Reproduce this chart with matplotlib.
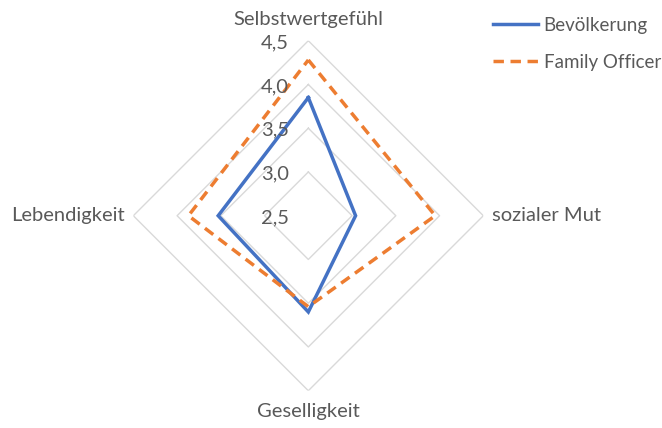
import numpy as np
import matplotlib.pyplot as plt

# ----------------------------
# Data
# ----------------------------
categories = ["Selbstwertgefühl", "sozialer Mut", "Geselligkeit", "Lebendigkeit"]
bevoelkerung = [3.85, 3.04, 3.60, 3.53]
family_officer = [4.28, 3.95, 3.54, 3.87]
ring_values = [3.0, 3.5, 4.0, 4.5]
tick_values = [2.5, 3.0, 3.5, 4.0, 4.5]
tick_labels = ["2,5", "3,0", "3,5", "4,0", "4,5"]

plt.rcParams["font.family"] = ["Lato", "DejaVu Sans"]
text_color = "#595959"
grid_color = "#d9d9d9"
fs = 14.5

fig = plt.figure(figsize=(6.62, 4.28), dpi=100)
ax = fig.add_axes([0.2014, 0.0871, 0.5287, 0.8178], projection="polar")
ax.set_theta_zero_location("N")
ax.set_theta_direction(-1)
ax.set_ylim(2.5, 4.5)
ax.grid(False)
ax.set_xticks([])
ax.set_yticks([])
ax.spines["polar"].set_visible(False)
ax.patch.set_alpha(0)

n = len(categories)
theta = np.arange(n) * 2 * np.pi / n
theta_closed = np.append(theta, theta[0])

# polygon grid rings
for rv in ring_values:
    ax.plot(theta_closed, [rv] * (n + 1), color=grid_color, lw=1.0, zorder=1)

# data series
ax.plot(theta_closed, bevoelkerung + bevoelkerung[:1], color="#4472C4",
        lw=2.5, zorder=3, solid_joinstyle="miter", label="Bevölkerung")
ax.plot(theta_closed, family_officer + family_officer[:1], color="#ED7D31",
        lw=2.5, zorder=3, dashes=(3.0, 1.9), label="Family Officer")

# tick labels along the top spoke
for tv, tl in zip(tick_values, tick_labels):
    ax.annotate(tl, xy=(0, tv), xytext=(-34, -1.5), textcoords="offset points",
                ha="left", va="center", fontsize=fs, color=text_color,
                annotation_clip=False)

# category labels
fig.text(308 / 662, 1 - 19 / 428, categories[0], ha="center", va="center",
         fontsize=fs, color=text_color)
fig.text(492 / 662, 1 - 216 / 428, categories[1], ha="left", va="center",
         fontsize=fs, color=text_color)
fig.text(308 / 662, 1 - 412 / 428, categories[2], ha="center", va="center",
         fontsize=fs, color=text_color)
fig.text(125 / 662, 1 - 216 / 428, categories[3], ha="right", va="center",
         fontsize=fs, color=text_color)

fig.legend(loc="upper left", bbox_to_anchor=(493 / 662, 1 - 17 / 428),
           frameon=False, fontsize=13.5, labelcolor=text_color,
           borderpad=0, borderaxespad=0,
           handlelength=2.4, handletextpad=0.3, labelspacing=1.05)

fig.savefig("out.png", dpi=100)
